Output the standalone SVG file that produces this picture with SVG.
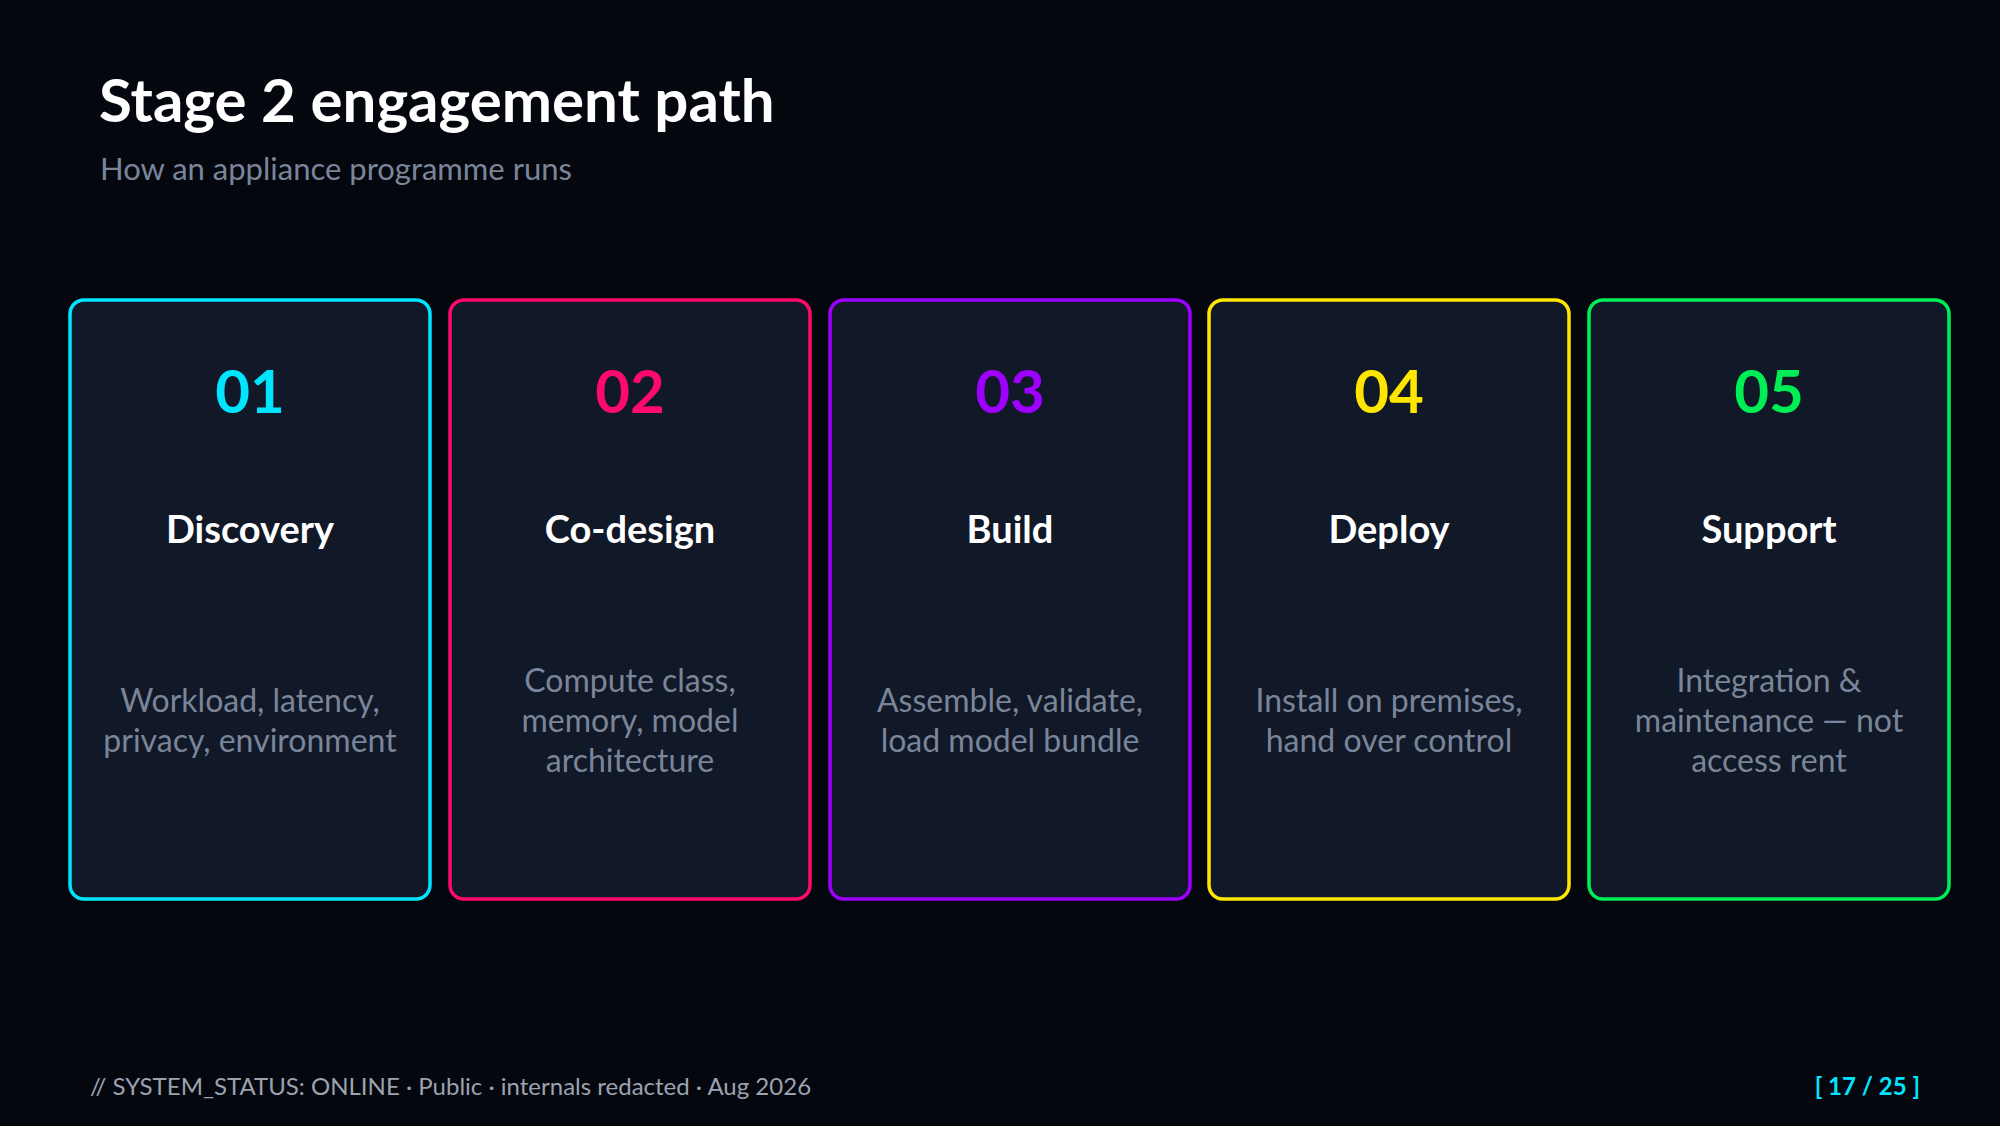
<svg xmlns="http://www.w3.org/2000/svg" width="2000" height="1126" viewBox="0 0 2000 1126">
<style>
text{font-family:Lato,"Noto Sans",sans-serif}
.card{fill:#111827;stroke-width:3.5}
.num{font-size:60px;font-weight:700;text-anchor:middle}
.ttl{font-size:38px;font-weight:700;fill:#ffffff;text-anchor:middle}
.desc{font-size:32px;fill:#7b8599;text-anchor:middle}
.foot{font-size:24px;fill:#9ca3af}
</style>
<rect width="2000" height="1126" fill="#05070f"/>
<text x="99" y="122" font-size="60" font-weight="700" fill="#ffffff">Stage 2 engagement path</text>
<text x="100" y="180" font-size="31" fill="#7b8599">How an appliance programme runs</text>
<g id="node1"><rect class="card" x="70" y="300" width="360" height="599" rx="14" stroke="#00e5ff"/>
<text class="num" x="250" y="413" fill="#00e5ff">01</text><text class="ttl" x="250" y="543">Discovery</text>
<text class="desc" x="250" y="712">Workload, latency,</text><text class="desc" x="250" y="752">privacy, environment</text></g>
<g id="node2"><rect class="card" x="450" y="300" width="360" height="599" rx="14" stroke="#ff0a6c"/>
<text class="num" x="630" y="413" fill="#ff0a6c">02</text><text class="ttl" x="630" y="543">Co-design</text>
<text class="desc" x="630" y="692">Compute class,</text><text class="desc" x="630" y="732">memory, model</text><text class="desc" x="630" y="772">architecture</text></g>
<g id="node3"><rect class="card" x="830" y="300" width="360" height="599" rx="14" stroke="#9d00ff"/>
<text class="num" x="1010" y="413" fill="#9d00ff">03</text><text class="ttl" x="1010" y="543">Build</text>
<text class="desc" x="1010" y="712">Assemble, validate,</text><text class="desc" x="1010" y="752">load model bundle</text></g>
<g id="node4"><rect class="card" x="1209" y="300" width="360" height="599" rx="14" stroke="#ffe600"/>
<text class="num" x="1389" y="413" fill="#ffe600">04</text><text class="ttl" x="1389" y="543">Deploy</text>
<text class="desc" x="1389" y="712">Install on premises,</text><text class="desc" x="1389" y="752">hand over control</text></g>
<g id="node5"><rect class="card" x="1589" y="300" width="360" height="599" rx="14" stroke="#00ee55"/>
<text class="num" x="1769" y="413" fill="#00ee55">05</text><text class="ttl" x="1769" y="543">Support</text>
<text class="desc" x="1769" y="692">Integration &amp;</text><text class="desc" x="1769" y="732">maintenance — not</text><text class="desc" x="1769" y="772">access rent</text></g>
<g id="connectors"></g>
<text class="foot" x="90" y="1095">// SYSTEM_STATUS: ONLINE  ·  Public · internals redacted · Aug 2026</text>
<text x="1920" y="1095" font-size="24" font-weight="700" fill="#00e5ff" text-anchor="end">[ 17 / 25 ]</text>
</svg>
